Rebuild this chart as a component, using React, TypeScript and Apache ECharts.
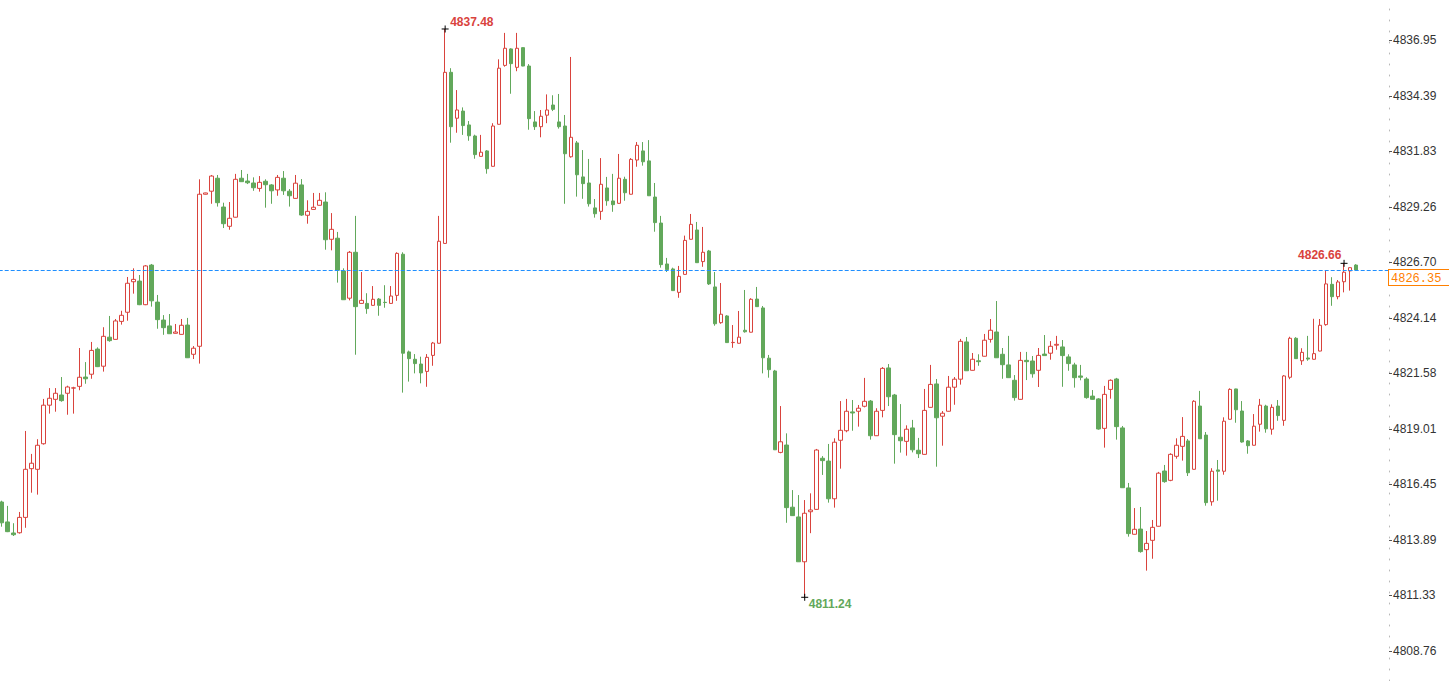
import React, { useEffect, useRef } from "react";
import * as echarts from "echarts";

const opens = [
  4815.64, 4814.72, 4814.21, 4814.22, 4814.93, 4817.18, 4817.15, 4818.33, 4820.11, 4820.38,
  4820.58, 4820.66, 4820.90, 4820.98, 4821.41, 4821.54, 4822.70, 4821.91, 4823.25, 4823.15,
  4823.98, 4824.40, 4825.81, 4825.84, 4824.75, 4826.58, 4824.87, 4824.04, 4823.77, 4823.43,
  4823.38, 4823.81, 4822.46, 4822.83, 4829.85, 4829.99, 4830.59, 4829.26, 4828.37, 4828.79,
  4830.59, 4830.46, 4830.37, 4830.12, 4830.45, 4830.28, 4830.05, 4830.59, 4829.99, 4829.66,
  4830.28, 4828.88, 4829.15, 4829.34, 4829.49, 4827.77, 4827.82, 4826.31, 4825.05, 4827.17,
  4824.81, 4824.81, 4824.72, 4825.01, 4824.86, 4824.81, 4825.18, 4827.08, 4822.57, 4822.23,
  4822.01, 4821.67, 4822.41, 4822.97, 4827.58, 4835.48, 4833.36, 4833.69, 4833.05, 4832.54,
  4831.60, 4831.85, 4831.14, 4833.08, 4835.80, 4836.56, 4835.71, 4836.62, 4835.77, 4833.19,
  4832.97, 4833.50, 4833.97, 4833.19, 4833.00, 4831.58, 4832.22, 4830.65, 4830.37, 4829.22,
  4829.06, 4830.14, 4829.54, 4829.43, 4830.54, 4829.85, 4831.43, 4831.85, 4831.39, 4829.72,
  4828.52, 4826.63, 4826.40, 4825.32, 4826.15, 4827.77, 4828.20, 4826.74, 4827.23, 4825.57,
  4823.92, 4824.23, 4823.00, 4822.97, 4823.57, 4823.48, 4825.01, 4824.60, 4822.28, 4821.69,
  4817.93, 4818.27, 4815.40, 4814.95, 4812.88, 4815.19, 4815.30, 4817.66, 4817.53, 4815.79,
  4818.49, 4818.93, 4819.80, 4819.83, 4820.06, 4820.30, 4818.70, 4819.87, 4821.83, 4820.58,
  4818.63, 4818.44, 4819.06, 4818.03, 4817.84, 4820.01, 4821.09, 4819.60, 4819.83, 4820.94,
  4821.31, 4823.03, 4821.72, 4822.16, 4822.37, 4823.15, 4823.49, 4822.46, 4821.97, 4821.26,
  4820.38, 4822.18, 4822.15, 4821.72, 4822.47, 4822.51, 4822.88, 4822.80, 4822.34, 4821.97,
  4821.46, 4821.32, 4820.53, 4820.40, 4819.04, 4820.84, 4821.32, 4819.06, 4816.29, 4814.15,
  4814.39, 4813.44, 4813.87, 4814.52, 4817.07, 4816.64, 4817.75, 4818.21, 4818.46, 4817.15,
  4820.07, 4818.73, 4815.65, 4817.12, 4817.06, 4819.46, 4820.86, 4819.84, 4818.46, 4818.26,
  4819.23, 4820.07, 4819.00, 4820.07, 4819.41, 4821.40, 4823.20, 4822.16, 4822.29, 4822.23,
  4822.61, 4823.83, 4825.69, 4825.12, 4825.81, 4826.31, 4826.58,
];

const closes = [
  4814.68, 4814.27, 4814.13, 4814.93, 4817.15, 4817.43, 4818.26, 4820.11, 4820.43, 4820.66,
  4820.32, 4820.95, 4820.91, 4821.40, 4821.33, 4822.64, 4821.89, 4823.29, 4823.09, 4824.00,
  4824.26, 4825.74, 4825.92, 4824.75, 4826.54, 4824.93, 4824.06, 4823.69, 4823.41, 4823.49,
  4823.80, 4822.30, 4822.74, 4829.85, 4829.91, 4830.69, 4829.46, 4828.49, 4828.74, 4830.54,
  4830.43, 4830.38, 4830.15, 4830.40, 4830.29, 4830.01, 4830.63, 4830.01, 4829.78, 4830.36,
  4828.89, 4829.06, 4829.25, 4829.57, 4827.75, 4828.23, 4826.34, 4824.98, 4827.17, 4824.66,
  4824.95, 4824.57, 4825.00, 4824.72, 4824.85, 4825.15, 4827.12, 4822.51, 4822.26, 4822.03,
  4821.60, 4822.32, 4822.98, 4827.68, 4835.48, 4832.97, 4833.74, 4833.02, 4832.55, 4831.68,
  4831.79, 4831.03, 4833.00, 4835.67, 4836.59, 4835.88, 4836.59, 4835.77, 4833.34, 4832.97,
  4833.45, 4833.74, 4833.77, 4832.97, 4831.72, 4832.48, 4830.75, 4830.34, 4829.41, 4828.95,
  4830.31, 4829.55, 4829.37, 4830.59, 4829.92, 4831.46, 4832.11, 4831.35, 4829.78, 4828.54,
  4826.60, 4826.37, 4825.40, 4826.06, 4827.72, 4828.46, 4826.69, 4827.17, 4825.71, 4823.87,
  4824.31, 4823.00, 4823.01, 4823.25, 4823.50, 4825.00, 4824.66, 4822.30, 4821.75, 4818.05,
  4818.42, 4815.38, 4815.01, 4812.88, 4815.12, 4815.27, 4818.04, 4817.55, 4815.79, 4818.40,
  4818.95, 4819.83, 4819.75, 4819.97, 4820.29, 4818.70, 4819.83, 4821.81, 4820.50, 4818.75,
  4818.47, 4819.00, 4818.05, 4817.87, 4819.87, 4821.07, 4819.53, 4819.74, 4820.94, 4821.31,
  4823.06, 4821.70, 4822.23, 4822.12, 4823.11, 4823.57, 4822.30, 4821.98, 4821.38, 4820.46,
  4822.18, 4822.12, 4821.56, 4822.41, 4822.40, 4822.83, 4822.92, 4822.40, 4822.03, 4821.38,
  4821.40, 4820.46, 4820.38, 4819.01, 4820.61, 4821.26, 4819.12, 4816.30, 4814.18, 4814.38,
  4813.35, 4813.73, 4814.47, 4816.97, 4816.58, 4817.84, 4818.26, 4818.67, 4816.99, 4820.29,
  4818.56, 4815.61, 4817.06, 4817.06, 4819.37, 4820.84, 4819.90, 4818.41, 4818.24, 4819.14,
  4820.11, 4819.02, 4820.01, 4819.63, 4821.46, 4823.20, 4822.26, 4822.55, 4822.24, 4822.49,
  4823.80, 4825.71, 4825.12, 4825.80, 4826.25, 4826.46, 4826.35,
];

const lows = [
  4814.50, 4814.25, 4814.07, 4814.18, 4814.45, 4816.07, 4815.98, 4818.29, 4819.72, 4819.81,
  4820.27, 4819.67, 4819.72, 4820.80, 4821.10, 4821.33, 4821.87, 4821.66, 4823.04, 4823.14,
  4823.83, 4824.01, 4825.26, 4824.73, 4824.73, 4824.66, 4823.64, 4823.36, 4823.40, 4823.42,
  4823.37, 4822.29, 4822.24, 4822.03, 4829.84, 4829.41, 4829.28, 4828.29, 4828.21, 4828.78,
  4830.42, 4830.32, 4830.01, 4829.97, 4829.23, 4829.41, 4829.78, 4829.82, 4829.28, 4829.65,
  4828.85, 4828.49, 4829.14, 4829.33, 4827.29, 4827.26, 4825.77, 4824.97, 4824.95, 4822.44,
  4824.80, 4824.33, 4824.71, 4824.24, 4824.61, 4824.80, 4824.93, 4820.69, 4821.20, 4821.58,
  4821.12, 4820.96, 4821.93, 4822.96, 4827.57, 4832.23, 4832.69, 4832.59, 4832.32, 4831.49,
  4831.59, 4830.80, 4831.13, 4833.07, 4835.74, 4834.49, 4835.53, 4835.76, 4832.83, 4832.82,
  4832.48, 4833.13, 4833.69, 4832.88, 4829.41, 4831.54, 4829.74, 4829.64, 4829.28, 4828.77,
  4828.67, 4829.32, 4829.04, 4829.42, 4829.55, 4829.84, 4831.12, 4831.17, 4829.77, 4828.12,
  4826.46, 4826.26, 4825.39, 4825.07, 4826.14, 4827.76, 4826.68, 4826.50, 4825.66, 4823.78,
  4823.87, 4822.99, 4822.76, 4822.96, 4823.46, 4823.47, 4824.65, 4821.58, 4821.38, 4818.04,
  4817.89, 4814.68, 4815.00, 4812.87, 4811.24, 4814.20, 4815.29, 4816.89, 4815.61, 4815.38,
  4817.18, 4818.86, 4818.93, 4819.12, 4820.01, 4818.52, 4818.69, 4819.55, 4820.07, 4817.41,
  4817.92, 4817.78, 4817.93, 4817.67, 4817.83, 4820.00, 4817.27, 4818.24, 4819.82, 4820.13,
  4821.06, 4821.69, 4821.71, 4821.93, 4822.36, 4823.00, 4822.29, 4821.33, 4821.37, 4820.32,
  4820.37, 4821.27, 4821.38, 4820.95, 4822.39, 4822.21, 4822.67, 4820.96, 4821.70, 4820.92,
  4821.26, 4820.41, 4820.37, 4818.98, 4818.15, 4820.41, 4818.52, 4816.29, 4814.04, 4814.14,
  4813.30, 4812.47, 4813.02, 4814.51, 4816.53, 4816.60, 4817.64, 4817.55, 4816.84, 4817.14,
  4818.55, 4815.47, 4815.47, 4815.70, 4816.90, 4819.45, 4819.30, 4818.38, 4817.87, 4818.25,
  4818.89, 4818.84, 4818.75, 4819.39, 4819.16, 4821.31, 4822.25, 4821.97, 4822.16, 4822.22,
  4822.60, 4823.78, 4824.70, 4825.00, 4825.32, 4825.40, 4826.34,
];

const highs = [
  4815.70, 4815.46, 4814.66, 4815.18, 4818.92, 4817.86, 4818.54, 4820.40, 4820.90, 4820.90,
  4821.41, 4821.01, 4820.96, 4822.75, 4822.10, 4823.03, 4822.78, 4823.71, 4824.23, 4824.09,
  4824.47, 4826.03, 4826.43, 4826.12, 4826.58, 4826.63, 4825.20, 4824.27, 4824.32, 4823.86,
  4824.09, 4824.14, 4822.84, 4830.54, 4829.92, 4830.74, 4830.74, 4829.46, 4829.49, 4830.79,
  4830.97, 4830.79, 4830.63, 4830.69, 4830.54, 4830.32, 4830.74, 4830.92, 4830.09, 4830.74,
  4830.55, 4829.57, 4829.91, 4829.91, 4829.94, 4828.98, 4828.11, 4826.43, 4827.23, 4828.85,
  4826.26, 4825.28, 4825.61, 4825.06, 4825.65, 4825.61, 4827.17, 4827.17, 4822.63, 4822.47,
  4822.35, 4822.47, 4823.03, 4828.85, 4837.48, 4835.67, 4834.66, 4833.86, 4833.23, 4832.60,
  4832.59, 4831.89, 4833.13, 4836.08, 4837.30, 4836.59, 4837.30, 4836.63, 4835.86, 4833.69,
  4833.74, 4834.46, 4834.42, 4834.48, 4833.51, 4836.19, 4832.31, 4831.89, 4831.48, 4829.63,
  4831.52, 4830.65, 4830.79, 4831.71, 4830.66, 4831.52, 4832.26, 4832.26, 4832.35, 4830.37,
  4828.85, 4826.91, 4826.46, 4826.54, 4827.94, 4828.94, 4828.57, 4828.34, 4827.28, 4826.26,
  4825.75, 4824.27, 4823.81, 4824.46, 4825.43, 4825.05, 4825.57, 4824.69, 4822.43, 4821.74,
  4820.07, 4818.81, 4816.19, 4815.96, 4815.73, 4816.04, 4818.09, 4817.76, 4818.32, 4818.58,
  4820.30, 4820.40, 4820.35, 4820.12, 4821.37, 4820.35, 4819.97, 4821.87, 4822.01, 4820.63,
  4820.16, 4819.18, 4819.43, 4818.60, 4820.86, 4821.97, 4821.32, 4819.84, 4821.46, 4821.41,
  4823.17, 4823.26, 4822.52, 4822.46, 4823.40, 4824.09, 4824.92, 4822.75, 4823.31, 4821.50,
  4822.57, 4822.57, 4822.38, 4822.75, 4823.35, 4823.07, 4823.31, 4823.12, 4822.46, 4822.07,
  4821.97, 4821.40, 4820.81, 4820.44, 4821.00, 4821.30, 4821.37, 4819.15, 4816.52, 4815.36,
  4815.41, 4814.30, 4814.81, 4817.03, 4817.35, 4817.89, 4818.58, 4819.56, 4818.55, 4820.34,
  4820.77, 4818.87, 4817.20, 4817.58, 4819.55, 4820.89, 4820.87, 4820.30, 4818.50, 4819.70,
  4820.40, 4820.13, 4820.15, 4820.35, 4821.50, 4823.27, 4823.25, 4822.74, 4823.31, 4824.10,
  4824.09, 4826.32, 4826.02, 4825.89, 4826.66, 4826.47, 4826.62,
];

const tickLabels = [
  "4808.76", "4811.33", "4813.89", "4816.45", "4819.01", "4821.58",
  "4824.14", "4826.70", "4829.26", "4831.83", "4834.39", "4836.95",
];
const lastPrice = 4826.35;
const yMin = 4807.375;
const yMax = 4838.819;
const emptySlots = 5;

const UP = "#d9433d";
const DOWN = "#62a85b";
const PRICE = "#ff8000";
const LINE = "#1f8fff";

export default function App() {
  const ref = useRef<HTMLDivElement>(null);

  useEffect(() => {
    if (!ref.current) return;
    const chart = echarts.init(ref.current, undefined, { renderer: "svg" });

    const categories = Array.from({ length: opens.length + emptySlots }, (_, i) => String(i + 1));
    const data = opens.map((o, i) => [o, closes[i], lows[i], highs[i]]);
    const tickVals = tickLabels.map(Number);

    let maxIdx = 0;
    highs.forEach((h, i) => { if (h > highs[maxIdx]) maxIdx = i; });
    let minIdx = 0;
    lows.forEach((l, i) => { if (l < lows[minIdx]) minIdx = i; });
    let recentIdx = minIdx;
    for (let i = minIdx; i < highs.length; i++) if (highs[i] > highs[recentIdx]) recentIdx = i;

    const crossSymbol = "path://M0,4L8,4M4,0L4,8";
    const markLabel = (color: string, position: number[]) => ({
      show: true,
      position,
      formatter: "{c}",
      color,
      fontSize: 12,
      fontWeight: "bold",
      fontFamily: "Liberation Sans, Arial, sans-serif",
      lineHeight: 12,
    });

    chart.setOption({
      animation: false,
      backgroundColor: "#ffffff",
      grid: { left: -1.3, right: 60, top: 0, bottom: 0, outerBoundsMode: "none", containLabel: false },
      xAxis: {
        type: "category",
        data: categories,
        boundaryGap: true,
        axisLine: { show: false },
        axisTick: { show: false },
        axisLabel: { show: false },
        splitLine: { show: false },
      },
      yAxis: {
        type: "value",
        position: "right",
        min: yMin,
        max: yMax,
        scale: true,
        splitLine: { show: false },
        axisLine: { show: true, lineStyle: { color: "#b8b8b8", type: [1, 10], width: 1 } },
        axisTick: { show: true, length: 3, lineStyle: { color: "#555" }, customValues: tickVals },
        axisLabel: {
          show: true,
          customValues: tickVals,
          margin: 4,
          color: "#333",
          fontSize: 12,
          fontFamily: "Liberation Sans, Arial, sans-serif",
          formatter: (v: number) => {
            const i = tickVals.findIndex((t) => Math.abs(t - v) < 1e-6);
            return i >= 0 ? tickLabels[i] : "";
          },
        },
      },
      series: [
        {
          type: "candlestick",
          data,
          barWidth: 4,
          itemStyle: {
            color: "#ffffff",
            borderColor: UP,
            color0: DOWN,
            borderColor0: DOWN,
            borderWidth: 1,
          },
          markLine: {
            silent: true,
            symbol: ["none", "none"],
            data: [{ yAxis: lastPrice }],
            lineStyle: { color: LINE, type: [4, 2], width: 1 },
            label: {
              show: true,
              position: "end",
              distance: 0,
              formatter: (p: any) => Number(p.value).toFixed(2),
              color: PRICE,
              fontFamily: "Liberation Mono, DejaVu Sans Mono, monospace",
              fontSize: 12,
              lineHeight: 13,
              verticalAlign: "top",
              backgroundColor: "#ffffff",
              borderColor: PRICE,
              borderWidth: 1,
              padding: [2, 10, 0, 2],
            },
          },
          markPoint: {
            silent: true,
            symbol: crossSymbol,
            symbolSize: 7,
            itemStyle: { color: "none", borderColor: "#000", borderWidth: 1 },
            data: [
              { coord: [maxIdx, highs[maxIdx]], value: highs[maxIdx].toFixed(2), label: markLabel(UP, [11, -7]) },
              { coord: [minIdx, lows[minIdx]], value: lows[minIdx].toFixed(2), label: markLabel(DOWN, [10, 7]) },
              { coord: [recentIdx, highs[recentIdx]], value: highs[recentIdx].toFixed(2), label: markLabel(UP, [-40, -8]) },
            ],
          },
        },
      ],
    });

    return () => chart.dispose();
  }, []);

  return (
    <div
      ref={ref}
      style={{ position: "fixed", left: 0, top: 0, width: 1449, height: 681, background: "#fff" }}
    />
  );
}
